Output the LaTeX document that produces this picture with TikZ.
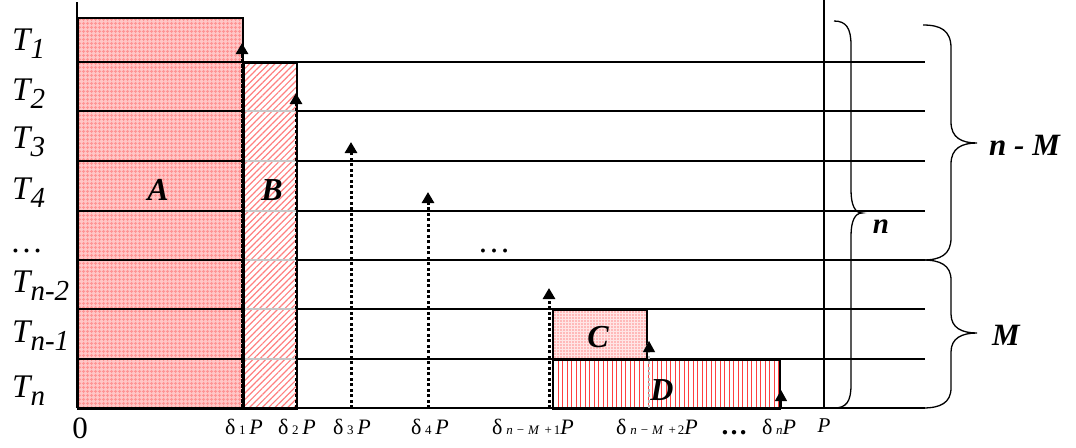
\documentclass[tikz,border=0pt]{standalone}
\usepackage{fontspec}
\setmainfont{Liberation Serif}
\usetikzlibrary{arrows.meta,patterns.meta}
\newcommand{\Tsub}[1]{\raisebox{-8pt}{\fontsize{29}{29}\selectfont #1}}
\newcommand{\dsub}[1]{{\fontsize{13}{13}\selectfont #1}}
\begin{document}
\begin{tikzpicture}[x=1pt,y=-1pt,
  tlab/.style={anchor=base west,inner sep=0pt,font=\fontsize{33}{33}\selectfont\itshape},
  dlab/.style={anchor=base,inner sep=0pt,font=\fontsize{22}{22}\selectfont},
  big/.style={inner sep=0pt,font=\fontsize{32}{32}\selectfont\bfseries\itshape},
  rowline/.style={line width=1.3pt},
  box/.style={draw,line width=1.5pt},
  uparrow/.style={line width=3pt,dash pattern=on 3pt off 2.5pt,-{Triangle[width=12pt,length=11pt]}},
  bracepath/.style={line width=1.3pt}]
\useasboundingbox (0,0) rectangle (1076,447);

% fills
\path[preaction={fill=red!22},pattern={Hatch[distance=4pt,line width=1.2pt]},pattern color=red!42] (77,17) rectangle (242,408);
\path[pattern={Lines[angle=45,distance=4.5pt,line width=1.2pt]},pattern color=red!50] (243,62) rectangle (296,408);
\path[preaction={fill=red!10},pattern={Dots[distance=3pt,radius=0.8pt]},pattern color=red!45] (552,309) rectangle (646,359);
\path[pattern={Lines[angle=90,distance=4.5pt,line width=1pt]},pattern color=red!75] (552,359) rectangle (779,408);

% row lines
\draw[rowline] (77,62) -- (925,62);
\foreach \yy in {111,161,211,260,309,359}{
  \draw[rowline] (77,\yy) -- (243,\yy);
  \draw[rowline,gray!45] (243,\yy) -- (296,\yy);
  \draw[rowline] (296,\yy) -- (925,\yy);
}
\draw[rowline] (77,408) -- (925,408);

% boxes
\node[box,inner sep=0pt,minimum width=165pt,minimum height=391pt,anchor=north west] (A) at (77,17) {};
\node[box,inner sep=0pt,minimum width=53pt,minimum height=346pt,anchor=north west] (B) at (243,62) {};
\node[box,inner sep=0pt,minimum width=94pt,minimum height=50pt,anchor=north west] (C) at (552,309) {};
\node[box,inner sep=0pt,minimum width=227pt,minimum height=49pt,anchor=north west] (D) at (552,359) {};

% axes
\coordinate (O) at (77,408);
\coordinate (Otop) at (77,2);
\draw[rowline] (O) -- (Otop);
\coordinate (Pb) at (824,408);
\coordinate (Pt) at (824,0);
\draw[rowline] (Pb) -- (Pt);

% arrows
\coordinate (b1) at (242,408); \coordinate (t1) at (242,43);
\coordinate (b2) at (296,408); \coordinate (t2) at (296,93);
\coordinate (b3) at (351,408); \coordinate (t3) at (351,142);
\coordinate (b4) at (428,408); \coordinate (t4) at (428,192);
\coordinate (b5) at (549,408); \coordinate (t5) at (549,288);
\coordinate (b6) at (649,408); \coordinate (t6) at (649,341);
\coordinate (b7) at (781,408); \coordinate (t7) at (781,390);
\draw[uparrow,dash pattern=on 4pt off 1pt] (b1) -- (t1);
\draw[uparrow] (b2) -- (t2);
\draw[uparrow] (b3) -- (t3);
\draw[uparrow] (b4) -- (t4);
\draw[uparrow] (b5) -- (t5);
\draw[uparrow,gray!55,line width=2pt] (b6) -- (t6);
\fill[black] (649,341) -- (643,352) -- (655,352) -- cycle;
\draw[uparrow,line width=1pt,solid] (b7) -- (t7);

% braces
\draw[bracepath] (834,21) .. controls (846,21) and (851,28) .. (851,45) -- (851,190)
  .. controls (851,205) and (855,213) .. (862,213)
  .. controls (855,213) and (851,221) .. (851,236) -- (851,385)
  .. controls (851,402) and (846,408) .. (834,408);
\draw[bracepath] (923,25) .. controls (940,25) and (951,30) .. (951,48) -- (951,122)
  .. controls (951,138) and (962,143) .. (977,143)
  .. controls (962,143) and (951,148) .. (951,164) -- (951,238)
  .. controls (951,255) and (940,260) .. (923,260);
\draw[bracepath] (923,260) .. controls (940,260) and (951,265) .. (951,280) -- (951,314)
  .. controls (951,328) and (962,333) .. (977,333)
  .. controls (962,333) and (951,338) .. (951,352) -- (951,388)
  .. controls (951,403) and (940,408) .. (923,408);

% row labels
\node[tlab] (T1) at (12,50) {T\Tsub{1}};
\node[tlab] (T2) at (12,100) {T\Tsub{2}};
\node[tlab] (T3) at (12,148) {T\Tsub{3}};
\node[tlab] (T4) at (12,199) {T\Tsub{4}};
\node[anchor=base west,inner sep=0pt,font=\fontsize{33}{33}\selectfont] (Tdots) at (10,252) {…};
\node[tlab] (Tn2) at (12,292) {T\Tsub{n-2}};
\node[tlab] (Tn1) at (12,342) {T\Tsub{n-1}};
\node[tlab] (Tn) at (12,397) {T\Tsub{n}};

% box labels
\node[big] (lA) at (158,190) {A};
\node[big] (lB) at (272,190) {B};
\node[big] (lC) at (598,337) {C};
\node[big] (lD) at (662,390) {D};
\node[anchor=base,inner sep=0pt,font=\fontsize{33}{33}\selectfont] (mdots) at (494,252) {…};

% axis labels
\node[anchor=base,inner sep=0pt,font=\fontsize{31}{31}\selectfont] (zero) at (80,438) {0};
\node[dlab] (d1) at (244,434) {δ\,\dsub{1}\,\textit{P}};
\node[dlab] (d2) at (297,434) {δ\,\dsub{2}\,\textit{P}};
\node[dlab] (d3) at (352,434) {δ\,\dsub{3}\,\textit{P}};
\node[dlab] (d4) at (430,434) {δ\,\dsub{4}\,\textit{P}};
\node[dlab] (d5) at (533,434) {δ\,\dsub{\textit{n}\hspace{4pt}−\hspace{4pt}\textit{M}\hspace{5pt}+\hspace{2pt}1}\textit{P}};
\node[dlab] (d6) at (657,434) {δ\,\dsub{\textit{n}\hspace{4pt}−\hspace{4pt}\textit{M}\hspace{5pt}+\hspace{2pt}2}\textit{P}};
\node[dlab,font=\fontsize{27}{27}\selectfont\bfseries] (ddots) at (734,434) {…};
\node[dlab] (dn) at (779,434) {δ\,\dsub{\textit{n}}\textit{P}};
\node[anchor=base,inner sep=0pt,font=\fontsize{21}{21}\selectfont\itshape] (lP) at (824,432) {P};

% brace labels
\node[anchor=base,inner sep=0pt,font=\fontsize{29}{29}\selectfont\bfseries\itshape] (ln) at (881,233) {n};
\node[anchor=base west,inner sep=0pt,font=\fontsize{31}{31}\selectfont\bfseries\itshape] (lnM) at (989,155) {n - M};
\node[anchor=base west,inner sep=0pt,font=\fontsize{31}{31}\selectfont\bfseries\itshape] (lM) at (992,345) {M};
\end{tikzpicture}
\end{document}
